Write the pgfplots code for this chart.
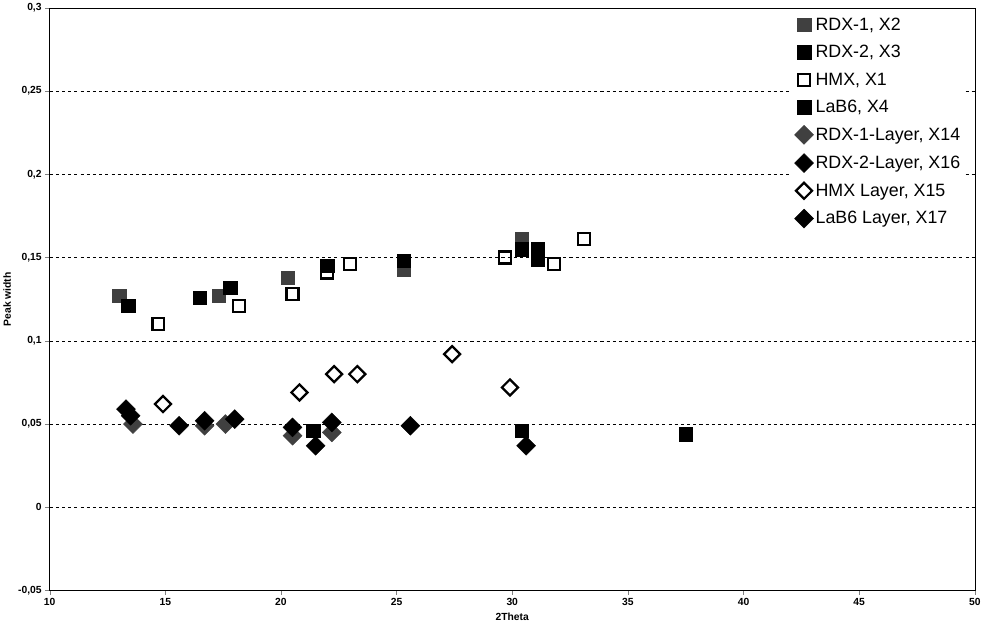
\documentclass[border=0pt]{standalone}
\usepackage{pgfplots}
\pgfplotsset{compat=1.18}
\usepackage{fontspec}
\setmainfont{Liberation Sans}
\begin{document}
\begin{tikzpicture}
\begin{axis}[
  width=897pt, height=565pt, scale only axis,
  xmin=10, xmax=50, ymin=-0.05, ymax=0.3,
  xtick={10,15,20,25,30,35,40,45,50}, ytick={-0.05,0,0.05,0.1,0.15,0.2,0.25,0.3},
  /pgf/number format/assume math mode=true,
  /pgf/number format/use comma, /pgf/number format/fixed,
  yticklabel style={/pgf/number format/precision=2},
  ymajorgrids, grid style={black, dashed},
  tick label style={font=\normalsize\bfseries},
  xlabel={\normalsize\bfseries 2Theta}, ylabel={\normalsize\bfseries Peak width},
  tick align=outside, tick pos=left,
  legend style={at={(0.99,0.99)}, anchor=north east, draw=none, fill=white, font=\LARGE, row sep=9pt, cells={anchor=west}},
  legend cell align=left,
]
\addplot[only marks, mark=square*, mark size=6.5pt, color=black!75] coordinates {(13.0,0.127)(17.3,0.127)(20.3,0.138)(25.3,0.143)(30.4,0.161)};
\addlegendentry{RDX-1, X2}
\addplot[only marks, mark=square*, mark size=6.5pt, color=black] coordinates {(13.4,0.121)(16.5,0.126)(17.8,0.132)(22.0,0.145)(25.3,0.148)(30.4,0.155)(31.1,0.155)(31.1,0.149)};
\addlegendentry{RDX-2, X3}
\addplot[only marks, mark=square, mark size=5.8pt, line width=2.2pt, color=black] coordinates {(14.7,0.110)(18.2,0.121)(20.5,0.128)(22.0,0.141)(23.0,0.146)(29.7,0.150)(31.8,0.146)(33.1,0.161)};
\addlegendentry{HMX, X1}
\addplot[only marks, mark=square*, mark size=6.5pt, color=black] coordinates {(21.4,0.046)(30.4,0.046)(37.5,0.044)};
\addlegendentry{LaB6, X4}
\addplot[only marks, mark=square*, mark size=6.5pt, mark options={rotate=45}, color=black!75] coordinates {(13.6,0.050)(16.7,0.049)(17.6,0.050)(20.5,0.043)(22.2,0.045)};
\addlegendentry{RDX-1-Layer, X14}
\addplot[only marks, mark=square*, mark size=6.5pt, mark options={rotate=45}, color=black] coordinates {(13.3,0.059)(13.5,0.055)(15.6,0.049)(16.7,0.052)(18.0,0.053)(20.5,0.048)(22.2,0.051)(25.6,0.049)};
\addlegendentry{RDX-2-Layer, X16}
\addplot[only marks, mark=square, mark size=5.5pt, mark options={rotate=45}, line width=2.2pt, color=black] coordinates {(14.9,0.062)(20.8,0.069)(22.3,0.080)(23.3,0.080)(27.4,0.092)(29.9,0.072)};
\addlegendentry{HMX Layer, X15}
\addplot[only marks, mark=square*, mark size=6.5pt, mark options={rotate=45}, color=black] coordinates {(21.5,0.037)(30.6,0.037)};
\addlegendentry{LaB6 Layer, X17}
\end{axis}
\end{tikzpicture}
\end{document}
